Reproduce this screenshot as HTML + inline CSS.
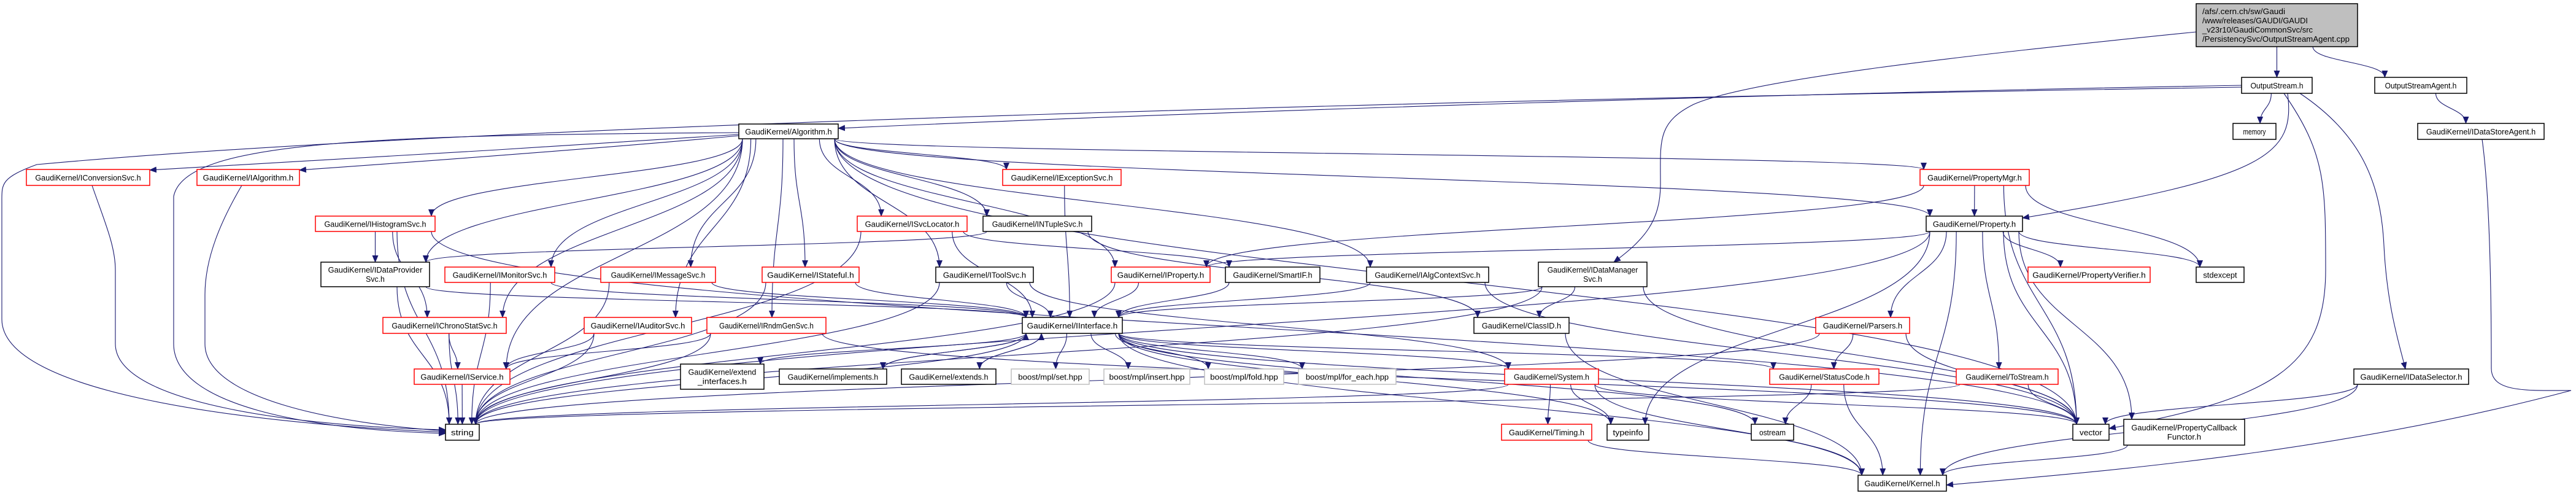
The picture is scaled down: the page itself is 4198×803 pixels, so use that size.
<!DOCTYPE html>
<html><head><meta charset="utf-8">
<style>
html,body{margin:0;padding:0;background:#fff;}
svg{display:block;}
text{font-family:"Liberation Sans",Arial,sans-serif;font-size:13px;fill:#000;}
</style></head>
<body>
<svg id="g" xmlns="http://www.w3.org/2000/svg" width="4198" height="803" viewBox="0 0 4198 803">
<defs>
<marker id="ah" markerWidth="12" markerHeight="10" refX="11" refY="5" orient="auto" markerUnits="userSpaceOnUse">
<path d="M0,0 L12,5 L0,10 z" fill="#191970"/>
</marker>
</defs>
<g id="edges" fill="none" stroke="#191970" stroke-width="1.1"></g>
<g id="nodes">
<rect id="R" x="3579" y="6" width="263" height="70" fill="#bfbfbf" stroke="#000" stroke-width="1.5"/>
<text x="3589" y="23" textLength="135" lengthAdjust="spacingAndGlyphs">/afs/.cern.ch/sw/Gaudi</text>
<text x="3589" y="38" textLength="172" lengthAdjust="spacingAndGlyphs">/www/releases/GAUDI/GAUDI</text>
<text x="3589" y="53" textLength="180" lengthAdjust="spacingAndGlyphs">_v23r10/GaudiCommonSvc/src</text>
<text x="3589" y="68" textLength="240" lengthAdjust="spacingAndGlyphs">/PersistencySvc/OutputStreamAgent.cpp</text>
</g>
</svg>
<script>
var N=[
["OS",3653,126,3768,152,"k",["OutputStream.h"]],
["OSA",3870,126,4020,152,"k",["OutputStreamAgent.h"]],
["MEM",3639,201,3709,227,"k",["memory"]],
["DSA",3940,201,4146,227,"k",["GaudiKernel/IDataStoreAgent.h"]],
["ALG",1204,202,1366,226,"k",["GaudiKernel/Algorithm.h"]],
["ICS",43,276,244,302,"r",["GaudiKernel/IConversionSvc.h"]],
["IALG",321,276,488,302,"r",["GaudiKernel/IAlgorithm.h"]],
["IEX",1634,276,1827,302,"r",["GaudiKernel/IExceptionSvc.h"]],
["PMG",3129,276,3307,302,"r",["GaudiKernel/PropertyMgr.h"]],
["IHS",514,352,709,377,"r",["GaudiKernel/IHistogramSvc.h"]],
["ISL",1397,352,1576,377,"r",["GaudiKernel/ISvcLocator.h"]],
["INT",1602,352,1779,377,"k",["GaudiKernel/INTupleSvc.h"]],
["PROP",3139,352,3296,377,"k",["GaudiKernel/Property.h"]],
["IDP",523,427,700,467,"k",["GaudiKernel/IDataProvider","Svc.h"]],
["IMON",725,435,904,460,"r",["GaudiKernel/IMonitorSvc.h"]],
["IMSG",979,435,1166,460,"r",["GaudiKernel/IMessageSvc.h"]],
["IST",1242,435,1400,460,"r",["GaudiKernel/IStateful.h"]],
["ITS",1525,435,1684,460,"k",["GaudiKernel/IToolSvc.h"]],
["IPR",1811,435,1972,460,"r",["GaudiKernel/IProperty.h"]],
["SIF",1997,435,2151,460,"k",["GaudiKernel/SmartIF.h"]],
["IAC",2227,435,2426,460,"k",["GaudiKernel/IAlgContextSvc.h"]],
["IDM",2507,427,2684,467,"k",["GaudiKernel/IDataManager","Svc.h"]],
["PV",3305,435,3504,460,"r",["GaudiKernel/PropertyVerifier.h"]],
["SE",3579,435,3657,460,"k",["stdexcept"]],
["ICH",624,517,825,543,"r",["GaudiKernel/IChronoStatSvc.h"]],
["IAUD",952,517,1127,543,"r",["GaudiKernel/IAuditorSvc.h"]],
["IRND",1152,517,1346,543,"r",["GaudiKernel/IRndmGenSvc.h"]],
["IIF",1666,517,1829,543,"k",["GaudiKernel/IInterface.h"]],
["CID",2402,517,2557,543,"k",["GaudiKernel/ClassID.h"]],
["PAR",2959,517,3112,543,"r",["GaudiKernel/Parsers.h"]],
["ISRV",675,601,831,626,"r",["GaudiKernel/IService.h"]],
["EXI",1109,593,1245,634,"k",["GaudiKernel/extend","_interfaces.h"]],
["IMP",1270,601,1445,626,"k",["GaudiKernel/implements.h"]],
["EXT",1469,601,1623,626,"k",["GaudiKernel/extends.h"]],
["BSET",1648,601,1775,626,"g",["boost/mpl/set.hpp"]],
["BINS",1799,601,1939,626,"g",["boost/mpl/insert.hpp"]],
["BFOLD",1963,601,2092,626,"g",["boost/mpl/fold.hpp"]],
["BFE",2116,601,2275,626,"g",["boost/mpl/for_each.hpp"]],
["SYS",2452,601,2605,626,"r",["GaudiKernel/System.h"]],
["SC",2884,601,3062,626,"r",["GaudiKernel/StatusCode.h"]],
["TS",3188,601,3354,626,"r",["GaudiKernel/ToStream.h"]],
["IDS",3836,601,4023,626,"k",["GaudiKernel/IDataSelector.h"]],
["STR",726,691,781,717,"k",["string"]],
["TIM",2447,691,2594,717,"r",["GaudiKernel/Timing.h"]],
["TI",2619,691,2687,717,"k",["typeinfo"]],
["OST",2854,691,2923,717,"k",["ostream"]],
["VEC",3378,691,3437,717,"k",["vector"]],
["PCF",3461,683,3658,725,"k",["GaudiKernel/PropertyCallback","Functor.h"]],
["KER",3028,774,3172,800,"k",["GaudiKernel/Kernel.h"]]
];
</script>
<script>
var svgns="http://www.w3.org/2000/svg";
var G=document.getElementById("nodes"),E=document.getElementById("edges");
var P={R:[3579,6,3842,76]};
N.forEach(function(n){P[n[0]]=[n[1],n[2],n[3],n[4]];});
var OV={
"R-IDM":"M3579,52 C3200,90 2850,130 2760,170 C2700,200 2706,230 2706,300 C2706,360 2680,390 2630,427",
"OS-ALG":"M3653,139 C3000,150 2000,180 1366,209",
"OS-STR":"M3653,142 C2500,160 800,200 60,268 C0,290 3,300 3,330 L3,520 C3,640 400,690 726,704",
"ALG-STR":"M1204,216 C600,220 300,230 283,320 L283,560 C283,660 500,700 726,706",
"ALG-ICS":"M1204,219 C900,240 500,262 244,277",
"ALG-IALG":"M1204,221 C1000,240 700,262 488,277",
"ICS-STR":"M150,302 C170,360 188,400 188,440 L188,560 C188,660 500,695 726,700",
"IALG-STR":"M394,302 C360,360 334,420 334,480 L334,560 C334,650 550,690 726,702",
"DSA-KER":"M4045,227 C4055,300 4060,420 4060,600 C4060,640 4120,636 4190,636 C3800,740 3400,770 3172,790",
"OS-PROP":"M3728,152 C3740,250 3700,290 3296,355",
"OS-VEC":"M3722,152 C3790,250 3790,300 3790,440 C3790,600 3700,650 3437,698",
"OS-IDS":"M3748,152 C3850,220 3880,300 3885,400 C3890,500 3910,560 3920,601"
};
var E_=[
"R-OS","R-OSA","R-IDM","OS-ALG","OS-STR","OS-MEM","OS-PROP","OS-VEC","OS-IDS","OSA-DSA","DSA-KER","IDS-VEC","IDS-KER",
"ALG-ICS","ALG-IALG","ALG-IHS","ALG-IDP","ALG-IMON","ALG-IMSG","ALG-IST","ALG-IAUD","ALG-IRND","ALG-ISRV","ALG-ICH","ALG-ISL","ALG-INT","ALG-ITS","ALG-IEX","ALG-IPR","ALG-IAC","ALG-PMG","ALG-PROP","ALG-STR","ALG-VEC",
"ICS-STR","IALG-STR","IHS-IDP","IHS-STR","IHS-ICH","IHS-VEC","IDP-STR","IDP-IIF","IMON-STR","IMON-IIF","IMSG-STR","IMSG-IIF","IST-STR","IST-IIF",
"ICH-ISRV","ICH-STR","IAUD-ISRV","IAUD-STR","IRND-ISRV","IRND-STR","IRND-VEC","ISRV-STR",
"ISL-IIF","ISL-SIF","ISL-STR","INT-IDP","INT-CID","IEX-IIF","ITS-IIF","ITS-SYS","ITS-STR","IPR-IIF","IPR-STR","SIF-IIF","IAC-IIF","IAC-VEC",
"IDM-CID","IDM-IIF","IDM-STR","IDM-VEC",
"IIF-EXI","IMP-IIF","EXT-IIF","IIF-EXT","IIF-IMP","IIF-BSET","IIF-BINS","IIF-BFOLD","IIF-BFE","IIF-SYS","IIF-TI","IIF-OST","IIF-KER","IIF-SC","IIF-VEC","IIF-STR",
"SYS-TIM","SYS-TI","SYS-KER","SYS-STR","SYS-VEC","TIM-KER","CID-KER",
"PMG-PROP","PMG-SE","PMG-VEC","PMG-IPR",
"PROP-PV","PROP-SE","PROP-PAR","PROP-TS","PROP-VEC","PROP-KER","PROP-PCF","PROP-IPR","PROP-STR","PROP-TI",
"PAR-SC","PAR-VEC","PAR-STR","SC-OST","SC-KER","TS-VEC","TS-STR","PCF-KER"
];
function cl(v,a,b){return Math.max(a,Math.min(b,v));}
E_.forEach(function(e){
 var p=e.split("-"),s=P[p[0]],t=P[p[1]];
 var scx=(s[0]+s[2])/2,tcx=(t[0]+t[2])/2,sw=(s[2]-s[0])/2-6,tw=(t[2]-t[0])/2-6;
 var x1,y1,x2,y2,d=OV[e];
 if(!d){
 if(t[1]>s[3]+4){
  x1=scx+cl((tcx-scx)*0.25,-sw,sw);y1=s[3];
  x2=tcx+cl((scx-tcx)*0.25,-tw,tw);y2=t[1];
  var m=(y2-y1)*0.5;
  d="M"+x1+","+y1+" C"+x1+","+(y1+m)+" "+x2+","+(y2-m)+" "+x2+","+y2;
 } else if(s[1]>t[3]+4){
  x1=scx+cl((tcx-scx)*0.25,-sw,sw);y1=s[1];
  x2=tcx+cl((scx-tcx)*0.25,-tw,tw);y2=t[3];
  var m=(y1-y2)*0.5;
  d="M"+x1+","+y1+" C"+x1+","+(y1-m)+" "+x2+","+(y2+m)+" "+x2+","+y2;
 } else {
  y1=(s[1]+s[3])/2;y2=(t[1]+t[3])/2;
  if(tcx<scx){x1=s[0];x2=t[2];}else{x1=s[2];x2=t[0];}
  var m=(x2-x1)*0.5;
  d="M"+x1+","+y1+" C"+(x1+m)+","+y1+" "+(x2-m)+","+y2+" "+x2+","+y2;
 }}
 var pa=document.createElementNS(svgns,"path");
 pa.setAttribute("d",d);pa.setAttribute("marker-end","url(#ah)");
 E.appendChild(pa);
});
N.forEach(function(n){
 var r=document.createElementNS(svgns,"rect");
 r.setAttribute("x",n[1]);r.setAttribute("y",n[2]);
 r.setAttribute("width",n[3]-n[1]);r.setAttribute("height",n[4]-n[2]);
 r.setAttribute("fill","#fff");
 r.setAttribute("stroke",n[5]=="r"?"#ff0000":(n[5]=="g"?"#bfbfbf":"#000"));
 r.setAttribute("stroke-width","1.5");
 G.appendChild(r);
 var L=n[6],cx=(n[1]+n[3])/2,h=n[4]-n[2];
 L.forEach(function(s,i){
  var t=document.createElementNS(svgns,"text");
  t.setAttribute("x",cx);t.setAttribute("text-anchor","middle");
  var y=L.length==1?n[2]+h/2+5:n[2]+h/2-3+i*15;
  t.setAttribute("y",y);
  var tl=Math.min(s.length*6.15,(n[3]-n[1])-14);
  t.setAttribute("textLength",tl);t.setAttribute("lengthAdjust","spacingAndGlyphs");
  t.textContent=s;G.appendChild(t);
 });
});
</script>
</body></html>
